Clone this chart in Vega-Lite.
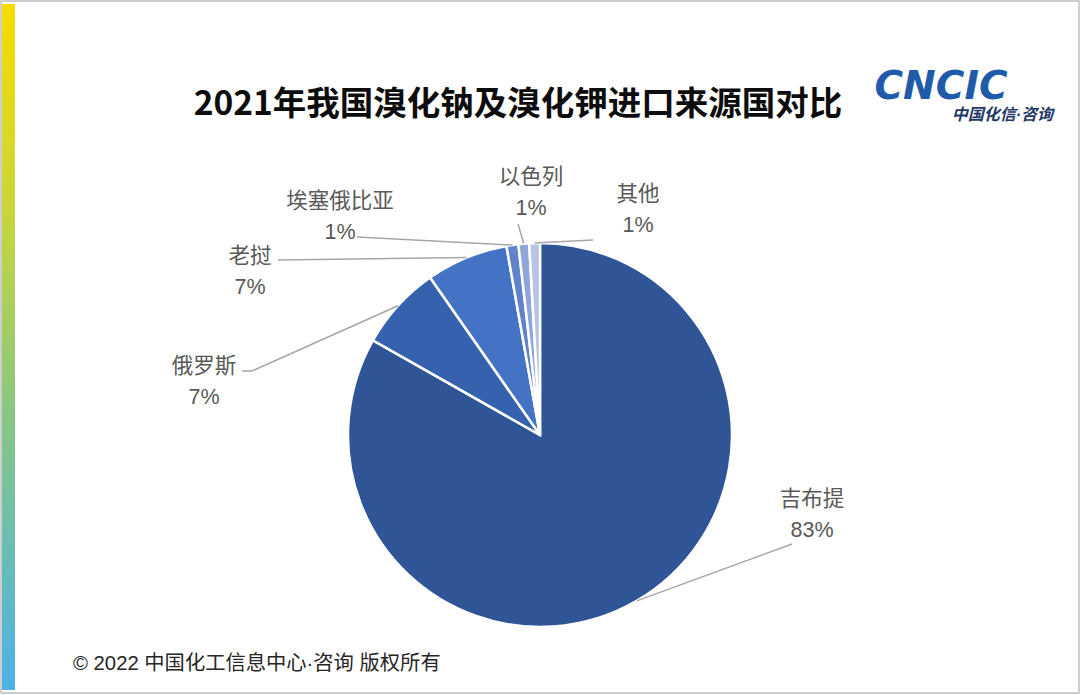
{
  "$schema": "https://vega.github.io/schema/vega-lite/v6.json",
  "width": 1080,
  "height": 695,
  "autosize": {"type": "none"},
  "padding": 0,
  "background": "white",
  "config": {"view": {"stroke": null}, "font": "Noto Sans CJK SC"},
  "title": {
    "text": "2021年我国溴化钠及溴化钾进口来源国对比",
    "font": "Noto Sans CJK SC",
    "fontSize": 33.5,
    "fontWeight": "bold",
    "color": "#0D0D0D",
    "anchor": "middle",
    "dx": -22,
    "baseline": "alphabetic",
    "offset": -148
  },
  "data": {
    "values": [
      {"country": "吉布提", "value": 83.2, "order": 0},
      {"country": "俄罗斯", "value": 7.1, "order": 1},
      {"country": "老挝", "value": 6.9, "order": 2},
      {"country": "埃塞俄比亚", "value": 1.0, "order": 3},
      {"country": "以色列", "value": 0.9, "order": 4},
      {"country": "其他", "value": 0.9, "order": 5}
    ]
  },
  "layer": [
    {
      "data": {"values": [{}]},
      "mark": {"type": "rect", "fill": null, "stroke": "#BFBFBF", "strokeWidth": 1.5},
      "encoding": {
        "x": {"datum": 1, "type": "quantitative", "scale": {"domain": [0, 1080], "nice": false}, "axis": null},
        "x2": {"datum": 1079},
        "y": {"datum": 1, "type": "quantitative", "scale": {"domain": [0, 695], "reverse": true, "nice": false}, "axis": null},
        "y2": {"datum": 693}
      }
    },
    {
      "data": {"values": [{}]},
      "mark": {
        "type": "rect",
        "color": {
          "gradient": "linear",
          "x1": 0, "y1": 0, "x2": 0, "y2": 1,
          "stops": [
            {"offset": 0, "color": "#F8DC00"},
            {"offset": 0.3, "color": "#C8D63A"},
            {"offset": 0.6, "color": "#86C782"},
            {"offset": 1, "color": "#4CB2E8"}
          ]
        }
      },
      "encoding": {
        "x": {"datum": 2, "type": "quantitative", "scale": {"domain": [0, 1080], "nice": false}, "axis": null},
        "x2": {"datum": 15},
        "y": {"datum": 4, "type": "quantitative", "scale": {"domain": [0, 695], "reverse": true, "nice": false}, "axis": null},
        "y2": {"datum": 690}
      }
    },
    {
      "transform": [
        {"stack": "value", "groupby": [], "sort": [{"field": "order"}], "as": ["v0", "v1"]}
      ],
      "mark": {"type": "arc", "outerRadius": 192, "stroke": "white", "strokeWidth": 2.5},
      "encoding": {
        "x": {"datum": 540, "type": "quantitative", "scale": {"domain": [0, 1080], "nice": false}, "axis": null},
        "y": {"datum": 435, "type": "quantitative", "scale": {"domain": [0, 695], "reverse": true, "nice": false}, "axis": null},
        "theta": {"field": "v0", "type": "quantitative", "stack": null, "scale": {"domain": [0, 100], "range": [0, 6.283185307179586]}},
        "theta2": {"field": "v1"},
        "color": {
          "field": "country",
          "type": "nominal",
          "scale": {
            "domain": ["吉布提", "俄罗斯", "老挝", "埃塞俄比亚", "以色列", "其他"],
            "range": ["#2F5597", "#3561AE", "#4472C4", "#6283CB", "#8EA6DA", "#B7C4E6"]
          },
          "legend": null
        }
      }
    },
    {
      "transform": [
        {"stack": "value", "groupby": [], "sort": [{"field": "order"}], "as": ["v0", "v1"]},
        {"calculate": "PI * (datum.v0 + datum.v1) / 100", "as": "a"},
        {"calculate": "540 + 192 * sin(datum.a)", "as": "ex"},
        {"calculate": "435 - 192 * cos(datum.a)", "as": "ey"},
        {"calculate": "[792, 252, 278, 357, 518, 593][datum.order]", "as": "lx"},
        {"calculate": "[544, 371, 260, 237, 224, 240][datum.order]", "as": "ly"}
      ],
      "mark": {"type": "rule", "color": "#A6A6A6", "strokeWidth": 1.5},
      "encoding": {
        "x": {"field": "ex", "type": "quantitative", "scale": {"domain": [0, 1080], "nice": false}, "axis": null},
        "y": {"field": "ey", "type": "quantitative", "scale": {"domain": [0, 695], "reverse": true, "nice": false}, "axis": null},
        "x2": {"field": "lx"},
        "y2": {"field": "ly"}
      }
    },
    {
      "transform": [
        {"filter": "datum.order == 1"}
      ],
      "mark": {"type": "rule", "color": "#A6A6A6", "strokeWidth": 1.5},
      "encoding": {
        "x": {"datum": 242, "type": "quantitative", "scale": {"domain": [0, 1080], "nice": false}, "axis": null},
        "x2": {"datum": 252},
        "y": {"datum": 371, "type": "quantitative", "scale": {"domain": [0, 695], "reverse": true, "nice": false}, "axis": null},
        "y2": {"datum": 371}
      }
    },
    {
      "transform": [
        {"calculate": "[812, 204, 250, 340, 531, 638][datum.order]", "as": "tx"},
        {"calculate": "[500, 367, 257, 202, 178, 195][datum.order]", "as": "ty"},
        {"calculate": "datum.country + '\\n' + format(datum.value / 100, '.0%')", "as": "label"}
      ],
      "mark": {"type": "text", "fontSize": 21.5, "color": "#595959", "align": "center", "baseline": "middle", "lineBreak": "\n", "lineHeight": 31, "font": "Liberation Sans, Noto Sans CJK SC"},
      "encoding": {
        "x": {"field": "tx", "type": "quantitative", "scale": {"domain": [0, 1080], "nice": false}, "axis": null},
        "y": {"field": "ty", "type": "quantitative", "scale": {"domain": [0, 695], "reverse": true, "nice": false}, "axis": null},
        "text": {"field": "label", "type": "nominal"}
      }
    },
    {
      "data": {"values": [{}]},
      "mark": {"type": "text", "text": "CNCIC", "font": "DejaVu Sans", "fontWeight": "bold", "fontStyle": "italic", "fontSize": 39, "color": "#1F5BA8", "align": "center", "baseline": "alphabetic"},
      "encoding": {
        "x": {"datum": 941, "type": "quantitative", "scale": {"domain": [0, 1080], "nice": false}, "axis": null},
        "y": {"datum": 99, "type": "quantitative", "scale": {"domain": [0, 695], "reverse": true, "nice": false}, "axis": null}
      }
    },
    {
      "data": {"values": [{}]},
      "mark": {"type": "text", "text": "中国化信·咨询", "font": "Liberation Sans, Noto Sans CJK SC", "fontWeight": "bold", "fontStyle": "italic", "fontSize": 16, "color": "#1F3864", "align": "right", "baseline": "alphabetic"},
      "encoding": {
        "x": {"datum": 1053, "type": "quantitative", "scale": {"domain": [0, 1080], "nice": false}, "axis": null},
        "y": {"datum": 120, "type": "quantitative", "scale": {"domain": [0, 695], "reverse": true, "nice": false}, "axis": null}
      }
    },
    {
      "data": {"values": [{}]},
      "mark": {"type": "text", "text": "© 2022 中国化工信息中心·咨询 版权所有", "font": "Liberation Sans, Noto Sans CJK SC", "fontSize": 20.3, "color": "#262626", "align": "left", "baseline": "middle"},
      "encoding": {
        "x": {"datum": 73, "type": "quantitative", "scale": {"domain": [0, 1080], "nice": false}, "axis": null},
        "y": {"datum": 664, "type": "quantitative", "scale": {"domain": [0, 695], "reverse": true, "nice": false}, "axis": null}
      }
    }
  ]
}
